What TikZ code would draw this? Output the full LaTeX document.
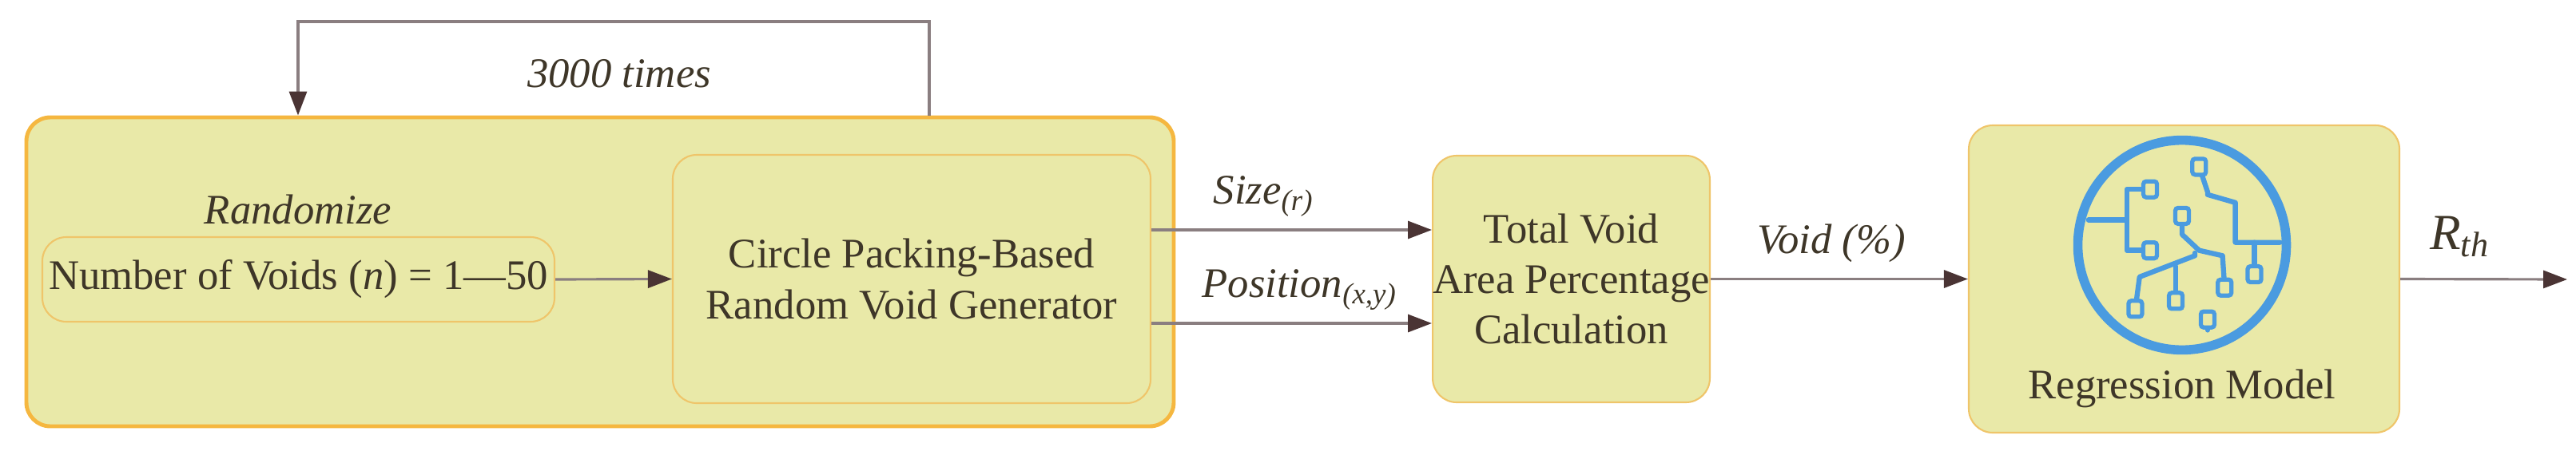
\documentclass[tikz,border=0pt]{standalone}
\usepackage{fontspec}
\setmainfont{Liberation Serif}
\usetikzlibrary{arrows.meta}
\definecolor{boxfill}{HTML}{E9E9A8}
\definecolor{obord}{HTML}{F5B740}
\definecolor{ibord}{HTML}{EFC56A}
\definecolor{arr}{HTML}{4A3434}
\definecolor{ln}{HTML}{8A7E80}
\definecolor{txt}{HTML}{3E3628}
\definecolor{icon}{HTML}{4A9BE0}
\begin{document}
\begin{tikzpicture}[
  every node/.style={text=txt,font=\fontsize{15}{18}\selectfont},
  box/.style={draw=ibord,line width=0.6pt,fill=boxfill,rounded corners=0.3cm,inner sep=0pt,align=center},
  conn/.style={draw=ln,line width=0.9pt,-{Triangle[length=0.3cm,width=0.22cm,color=arr]}},
  lbl/.style={font=\fontsize{15}{18}\selectfont\itshape},
  trace/.style={draw=icon,line width=1.8pt,line cap=round,line join=round},
  pad/.style={draw=icon,line width=1.5pt,fill=boxfill,rounded corners=1pt,minimum width=0.17cm,minimum height=0.2cm,inner sep=0pt}
]
\useasboundingbox (0,0) rectangle (32.24,-5.74);
\node[box,draw=obord,line width=1.4pt,minimum width=14.36cm,minimum height=3.87cm] (outer) at (7.51,-3.405) {};
\node[box,minimum width=6.41cm,minimum height=1.06cm] (num) at (3.735,-3.50) {Number of Voids (\textit{n}) = 1---50};
\node[lbl] (rand) at (3.73,-2.62) {Randomize};
\node[box,minimum width=5.98cm,minimum height=3.11cm] (gen) at (11.41,-3.495) {Circle Packing-Based\\Random Void Generator};
\node[box,minimum width=3.43cm,minimum height=3.09cm] (tot) at (19.665,-3.495) {Total Void\\Area Percentage\\Calculation};
\node[box,minimum width=5.39cm,minimum height=3.85cm] (reg) at (27.335,-3.495) {};
\node (regt) at (27.31,-4.87) {Regression Model};
\coordinate (out) at (32.13,-3.50);
\coordinate (lpL) at (3.73,-0.27);
\coordinate (lpR) at (11.63,-0.27);
\draw[conn] (outer.north -| lpR) -- (lpR) -- (lpL) -- (outer.north -| lpL);
\node[lbl] (times) at (7.75,-0.92) {3000 times};
\draw[conn] (num.east) -- (gen.west);
\draw[conn] (gen.east |- 0,-2.88) -- (tot.west |- 0,-2.88) node[lbl,midway,above=1pt,xshift=-0.35cm] (size) {Size\textsubscript{(\textit{r})}};
\draw[conn] (gen.east |- 0,-4.05) -- (tot.west |- 0,-4.05) node[lbl,midway,above=1pt,xshift=0.1cm] (pos) {Position\textsubscript{(\textit{x,y})}};
\draw[conn] (tot.east) -- (reg.west) node[lbl,midway,above=2pt,xshift=-0.1cm] (void) {Void (\%)};
\draw[conn] (reg.east) -- (out) node[lbl,midway,above=4pt,xshift=-0.3cm,font=\fontsize{18}{21}\selectfont\itshape] (rth) {R\textsubscript{\textit{th}}};
% icon
\begin{scope}[shift={(27.31,-3.07)},x=0.00533cm,y=-0.00333cm]
\draw[icon,line width=3.3pt] (0,0) ellipse [x radius=245, y radius=395];
\draw[trace] (-220,-95) -- (-130,-95);
\draw[trace] (-75,-210) -- (-130,-210) -- (-130,20) -- (-75,20);
\draw[trace] (40,-295) -- (60,-200) -- (60,-190) -- (125,-160) -- (125,-10) -- (230,-10);
\draw[trace] (170,-10) -- (170,110);
\draw[trace] (0,-110) -- (0,-40) -- (40,20) -- (95,40) -- (100,160);
\draw[trace] (30,30) -- (30,40) -- (-100,120) -- (-110,240);
\draw[trace] (-15,80) -- (-15,210);
\draw[trace] (60,280) -- (60,320);
\foreach \p in {(40,-295),(-75,-210),(0,-110),(-75,20),(170,110),(100,160),(-110,240),(-15,210),(60,280)}
  \node[pad] at \p {};
\end{scope}
\end{tikzpicture}
\end{document}
